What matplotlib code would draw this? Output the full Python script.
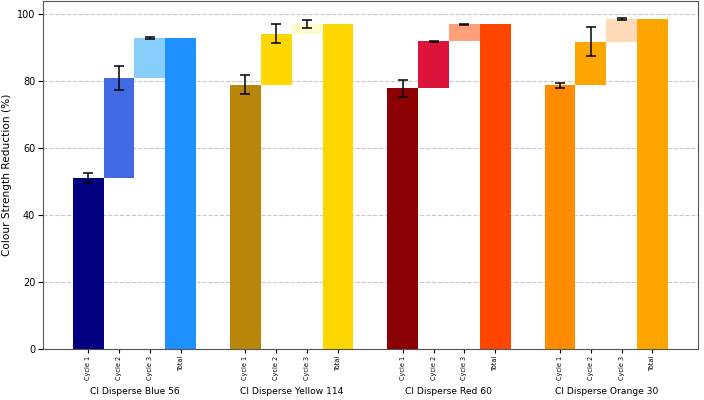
import numpy as np
import matplotlib
matplotlib.use("Agg")
import matplotlib.pyplot as plt

# Dyes and cumulative colour strength reduction (%) after each cycle
dyes = ["CI Disperse Blue 56", "CI Disperse Yellow 114", "CI Disperse Red 60", "CI Disperse Orange 30"]
bar_labels = ["Cycle 1", "Cycle 2", "Cycle 3", "Total"]

after_cycle1 = [51.1, 78.9, 77.8, 78.7]
after_cycle2 = [80.9, 94.1, 91.8, 91.7]
after_cycle3 = [92.9, 96.9, 96.9, 98.6]
err_cycle1 = [1.5, 2.9, 2.5, 0.8]
err_cycle2 = [3.6, 2.8, 0.2, 4.3]
err_cycle3 = [0.3, 1.2, 0.1, 0.3]

colours = [
    ["navy", "royalblue", "lightskyblue", "dodgerblue"],
    ["darkgoldenrod", "gold", "lemonchiffon", "gold"],
    ["darkred", "crimson", "lightsalmon", "orangered"],
    ["darkorange", "orange", "peachpuff", "orange"],
]

fig = plt.figure(figsize=(7.04, 4.0), dpi=100)
ax = fig.add_axes([0.061, 0.1275, 0.93, 0.87])

group_gap = 5.1
tick_pos = []
tick_lab = []
for i, dye in enumerate(dyes):
    base = i * group_gap
    x = base + np.arange(4)
    tops = [after_cycle1[i], after_cycle2[i], after_cycle3[i]]
    bottoms = [0, after_cycle1[i], after_cycle2[i]]
    errs = [err_cycle1[i], err_cycle2[i], err_cycle3[i]]

    # each cycle bar starts where the previous one ended
    for j in range(3):
        ax.bar(x[j], tops[j] - bottoms[j], bottom=bottoms[j], width=1.0,
               color=colours[i][j], zorder=2)
        ax.errorbar(x[j], tops[j], yerr=errs[j], fmt="none", ecolor="black",
                    elinewidth=1.1, capsize=3.5, capthick=1.1, zorder=3)
    # total bar
    ax.bar(x[3], after_cycle3[i], width=1.0, color=colours[i][3], zorder=2)

    tick_pos.extend(x)
    tick_lab.extend(bar_labels)
    ax.text(base + 1.5, -0.11, dye, transform=ax.get_xaxis_transform(),
            ha="center", va="top", fontsize=6.6)

ax.set_xticks(tick_pos)
ax.set_xticklabels(tick_lab, rotation=90, fontsize=4.7)
ax.tick_params(axis="x", length=3, pad=2)
ax.set_yticks([0, 20, 40, 60, 80, 100])
ax.tick_params(axis="y", labelsize=7, length=3.5, pad=2)
ax.set_ylabel("Colour Strength Reduction (%)", fontsize=7.6)
ax.yaxis.set_label_coords(-0.048, 0.5)
ax.yaxis.grid(True, linestyle="--", color="#c8c8c8", linewidth=0.8, zorder=0)
ax.set_axisbelow(True)
for s in ax.spines.values():
    s.set_color("#555555")

fig.savefig("out.png", dpi=100)
